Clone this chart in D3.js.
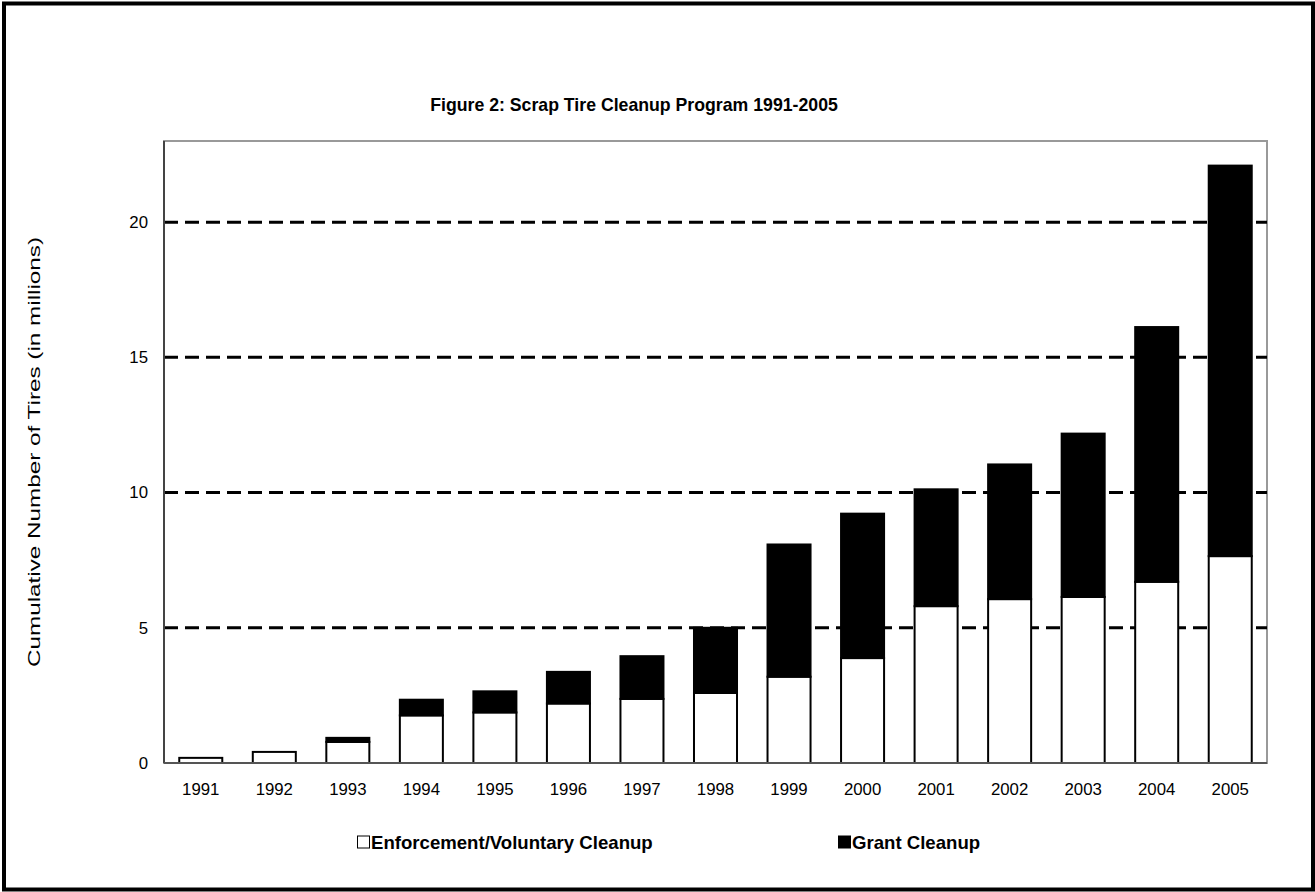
<!DOCTYPE html>
<html>
<head>
<meta charset="utf-8">
<script src="https://cdn.jsdelivr.net/npm/d3@7"></script>
<style>
  body { margin: 0; background: #fff; }
  svg { display: block; font-family: "Liberation Sans", Arial, sans-serif; }
</style>
</head>
<body>
<div id="chart"></div>
<script>
const years = ["1991", "1992", "1993", "1994", "1995", "1996", "1997", "1998",
  "1999", "2000", "2001", "2002", "2003", "2004", "2005"];
const enforcement = [0.19, 0.41, 0.78, 1.76, 1.87, 2.20, 2.37, 2.59,
  3.19, 3.88, 5.80, 6.06, 6.14, 6.70, 7.65];
const grant = [0, 0, 0.15, 0.58, 0.78, 1.17, 1.58, 2.41,
  4.89, 5.34, 4.32, 4.98, 6.04, 9.42, 14.44];
const seriesNames = ["Enforcement/Voluntary Cleanup", "Grant Cleanup"];
const seriesColors = ["#ffffff", "#000000"];
const yTicks = [0, 5, 10, 15, 20];

const width = 1315, height = 892;
const plot = { left: 164, top: 141, right: 1267, bottom: 763 };

const svg = d3.select("#chart").append("svg")
  .attr("width", width)
  .attr("height", height);

// outer frame
svg.append("rect")
  .attr("x", 4).attr("y", 3.5)
  .attr("width", 1309).attr("height", 886)
  .attr("fill", "#fff")
  .attr("stroke", "#000")
  .attr("stroke-width", 4);

const tableData = years.map((y, i) => ({ year: y, enf: enforcement[i], grant: grant[i] }));
const stacked = d3.stack().keys(["enf", "grant"])(tableData);

const x = d3.scaleBand()
  .domain(years)
  .range([plot.left, plot.right])
  .paddingInner(0.415)
  .paddingOuter(0.2075);

const y = d3.scaleLinear()
  .domain([0, 23])
  .range([plot.bottom, plot.top]);

// plot border
svg.append("rect")
  .attr("x", plot.left).attr("y", plot.top)
  .attr("width", plot.right - plot.left)
  .attr("height", plot.bottom - plot.top)
  .attr("fill", "none")
  .attr("stroke", "#999")
  .attr("stroke-width", 2);

// dashed gridlines
svg.append("g")
  .selectAll("line")
  .data(yTicks.filter(d => d > 0))
  .join("line")
    .attr("x1", plot.left).attr("x2", plot.right)
    .attr("y1", d => y(d)).attr("y2", d => y(d))
    .attr("stroke", "#000")
    .attr("stroke-width", 3)
    .attr("stroke-dasharray", "14,7");

// bars
svg.append("g")
  .selectAll("g")
  .data(stacked)
  .join("g")
    .attr("fill", (d, i) => seriesColors[i])
  .selectAll("rect")
  .data(d => d.filter(s => s[1] - s[0] > 0))
  .join("rect")
    .attr("x", d => x(d.data.year))
    .attr("y", d => y(d[1]))
    .attr("width", x.bandwidth())
    .attr("height", d => y(d[0]) - y(d[1]))
    .attr("stroke", "#000")
    .attr("stroke-width", 2);

// axes lines
svg.append("line")
  .attr("x1", plot.left).attr("x2", plot.left)
  .attr("y1", plot.top).attr("y2", plot.bottom)
  .attr("stroke", "#444").attr("stroke-width", 2);
svg.append("line")
  .attr("x1", plot.left).attr("x2", plot.right)
  .attr("y1", plot.bottom).attr("y2", plot.bottom)
  .attr("stroke", "#555").attr("stroke-width", 2);

// y tick labels
svg.append("g")
  .selectAll("text")
  .data(yTicks)
  .join("text")
    .attr("x", 148)
    .attr("y", d => y(d))
    .attr("dy", "0.35em")
    .attr("text-anchor", "end")
    .style("font-size", "16.8px")
    .text(d => d);

// x tick labels
svg.append("g")
  .selectAll("text")
  .data(years)
  .join("text")
    .attr("x", d => x(d) + x.bandwidth() / 2)
    .attr("y", 789)
    .attr("dy", "0.35em")
    .attr("text-anchor", "middle")
    .style("font-size", "16.8px")
    .text(d => d);

// y axis title
svg.append("text")
  .attr("transform", `translate(34, ${(plot.top + plot.bottom) / 2}) rotate(-90)`)
  .attr("x", -215)
  .attr("dy", "0.35em")
  .attr("textLength", 430)
  .attr("lengthAdjust", "spacingAndGlyphs")
  .style("font-size", "17px")
  .text("Cumulative Number of Tires (in millions)");

// title
svg.append("text")
  .attr("x", 634)
  .attr("y", 105)
  .attr("dy", "0.35em")
  .attr("text-anchor", "middle")
  .style("font-size", "17.7px")
  .style("font-weight", "bold")
  .text("Figure 2: Scrap Tire Cleanup Program 1991-2005");

// legend
const legendX = [357, 838];
const legend = svg.append("g")
  .selectAll("g")
  .data(seriesNames)
  .join("g")
    .attr("transform", (d, i) => `translate(${legendX[i]}, 842)`);

legend.append("rect")
  .attr("x", 0.5).attr("y", -6)
  .attr("width", 12).attr("height", 12)
  .attr("fill", (d, i) => seriesColors[i])
  .attr("stroke", "#000")
  .attr("stroke-width", 1);

legend.append("text")
  .attr("x", 14)
  .attr("dy", "0.35em")
  .style("font-size", "18.6px")
  .style("font-weight", "bold")
  .text(d => d);
</script>
</body>
</html>
